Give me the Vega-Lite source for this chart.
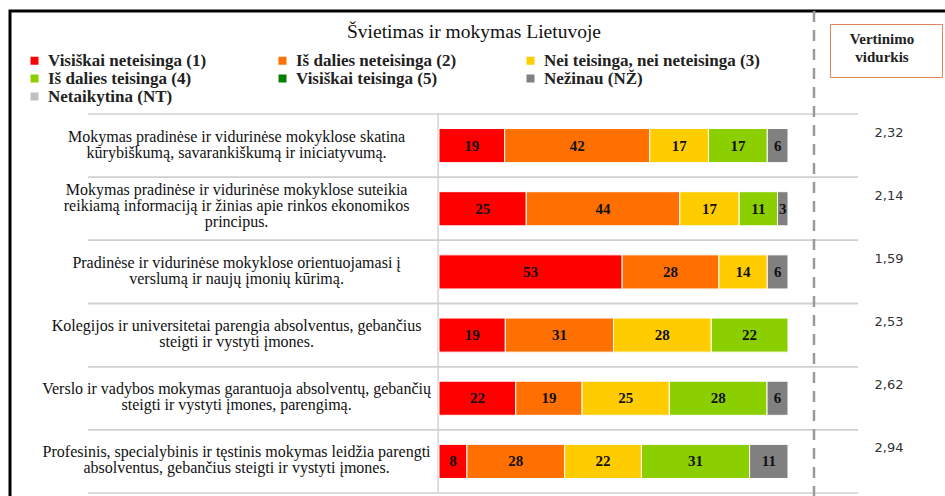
{
  "$schema": "https://vega.github.io/schema/vega-lite/v6.json",
  "autosize": {"type": "none"},
  "padding": {"left": 10, "top": 11, "right": -3, "bottom": -3},
  "width": 938,
  "height": 488,
  "background": "white",
  "title": {
    "text": "Švietimas ir mokymas Lietuvoje",
    "font": "Liberation Serif",
    "fontSize": 19.5,
    "fontWeight": "normal",
    "color": "#111111",
    "anchor": "middle",
    "baseline": "alphabetic",
    "offset": -48,
    "dx": -5
  },
  "datasets": {
    "bars": [
      {"s": "q1", "c": "Visiškai neteisinga (1)", "k": 1, "v": 19},
      {"s": "q1", "c": "Iš dalies neteisinga (2)", "k": 2, "v": 42},
      {"s": "q1", "c": "Nei teisinga, nei neteisinga (3)", "k": 3, "v": 17},
      {"s": "q1", "c": "Iš dalies teisinga (4)", "k": 4, "v": 17},
      {"s": "q1", "c": "Nežinau (NŽ)", "k": 6, "v": 6},
      {"s": "q2", "c": "Visiškai neteisinga (1)", "k": 1, "v": 25},
      {"s": "q2", "c": "Iš dalies neteisinga (2)", "k": 2, "v": 44},
      {"s": "q2", "c": "Nei teisinga, nei neteisinga (3)", "k": 3, "v": 17},
      {"s": "q2", "c": "Iš dalies teisinga (4)", "k": 4, "v": 11},
      {"s": "q2", "c": "Nežinau (NŽ)", "k": 6, "v": 3},
      {"s": "q3", "c": "Visiškai neteisinga (1)", "k": 1, "v": 53},
      {"s": "q3", "c": "Iš dalies neteisinga (2)", "k": 2, "v": 28},
      {"s": "q3", "c": "Nei teisinga, nei neteisinga (3)", "k": 3, "v": 14},
      {"s": "q3", "c": "Nežinau (NŽ)", "k": 6, "v": 6},
      {"s": "q4", "c": "Visiškai neteisinga (1)", "k": 1, "v": 19},
      {"s": "q4", "c": "Iš dalies neteisinga (2)", "k": 2, "v": 31},
      {"s": "q4", "c": "Nei teisinga, nei neteisinga (3)", "k": 3, "v": 28},
      {"s": "q4", "c": "Iš dalies teisinga (4)", "k": 4, "v": 22},
      {"s": "q5", "c": "Visiškai neteisinga (1)", "k": 1, "v": 22},
      {"s": "q5", "c": "Iš dalies neteisinga (2)", "k": 2, "v": 19},
      {"s": "q5", "c": "Nei teisinga, nei neteisinga (3)", "k": 3, "v": 25},
      {"s": "q5", "c": "Iš dalies teisinga (4)", "k": 4, "v": 28},
      {"s": "q5", "c": "Nežinau (NŽ)", "k": 6, "v": 6},
      {"s": "q6", "c": "Visiškai neteisinga (1)", "k": 1, "v": 8},
      {"s": "q6", "c": "Iš dalies neteisinga (2)", "k": 2, "v": 28},
      {"s": "q6", "c": "Nei teisinga, nei neteisinga (3)", "k": 3, "v": 22},
      {"s": "q6", "c": "Iš dalies teisinga (4)", "k": 4, "v": 31},
      {"s": "q6", "c": "Nežinau (NŽ)", "k": 6, "v": 11}
    ],
    "stm": [
      {"s": "q1", "avg": 2.32, "label": "Mokymas pradinėse ir vidurinėse mokyklose skatina\nkūrybiškumą, savarankiškumą ir iniciatyvumą."},
      {"s": "q2", "avg": 2.14, "label": "Mokymas pradinėse ir vidurinėse mokyklose suteikia\nreikiamą informaciją ir žinias apie rinkos ekonomikos\nprincipus."},
      {"s": "q3", "avg": 1.59, "label": "Pradinėse ir vidurinėse mokyklose orientuojamasi į\nverslumą ir naujų įmonių kūrimą."},
      {"s": "q4", "avg": 2.53, "label": "Kolegijos ir universitetai parengia absolventus, gebančius\nsteigti ir vystyti įmones."},
      {"s": "q5", "avg": 2.62, "label": "Verslo ir vadybos mokymas garantuoja absolventų, gebančių\nsteigti ir vystyti įmones, parengimą."},
      {"s": "q6", "avg": 2.94, "label": "Profesinis, specialybinis ir tęstinis mokymas leidžia parengti\nabsolventus, gebančius steigti ir vystyti įmones."}
    ]
  },
  "layer": [
    {
      "data": {"name": "stm"},
      "mark": {"type": "rule", "color": "#d0d0d0", "strokeWidth": 1.5},
      "encoding": {
        "y": {"field": "s", "type": "nominal", "bandPosition": 0, "axis": null,
              "scale": {"type": "band", "domain": ["q1", "q2", "q3", "q4", "q5", "q6"], "paddingInner": 0, "paddingOuter": 0.8628, "align": 0.94495}},
        "x": {"datum": -1.0057, "type": "quantitative", "axis": null,
              "scale": {"domain": [-1.22923, 1.45845], "nice": false, "zero": false}},
        "x2": {"datum": 1.2006}
      }
    },
    {
      "data": {"name": "stm"},
      "mark": {"type": "rule", "color": "#d0d0d0", "strokeWidth": 1.5},
      "encoding": {
        "y": {"field": "s", "type": "nominal", "bandPosition": 1, "axis": null},
        "x": {"datum": -1.0057, "type": "quantitative", "axis": null},
        "x2": {"datum": 1.2006}
      }
    },
    {
      "data": {"name": "stm"},
      "mark": {"type": "bar", "color": "#d0d0d0"},
      "encoding": {
        "y": {"field": "s", "type": "nominal", "axis": null},
        "x": {"datum": -0.0045, "type": "quantitative", "axis": null},
        "x2": {"datum": -0.0005}
      }
    },
    {
      "data": {"values": [{}]},
      "mark": {"type": "rule", "color": "#9a9a9a", "strokeWidth": 2.5, "strokeDash": [11, 8]},
      "encoding": {
        "x": {"datum": 1.0745, "type": "quantitative", "axis": null}
      }
    },
    {
      "data": {"name": "bars"},
      "mark": {"type": "bar", "height": {"band": 0.54}, "stroke": "white", "strokeWidth": 1},
      "encoding": {
        "y": {"field": "s", "type": "nominal", "axis": null},
        "x": {"field": "v", "type": "quantitative", "stack": "normalize", "axis": null},
        "order": {"field": "k", "type": "quantitative"},
        "color": {
          "field": "c", "type": "nominal",
          "scale": {
            "domain": ["Visiškai neteisinga (1)", "Iš dalies neteisinga (2)", "Nei teisinga, nei neteisinga (3)", "Iš dalies teisinga (4)", "Visiškai teisinga (5)", "Nežinau (NŽ)", "Netaikytina (NT)"],
            "range": ["#ff0000", "#ff7000", "#ffcc00", "#8ccf00", "#008000", "#808080", "#c0c0c0"]
          },
          "legend": {
            "orient": "none", "legendX": 16, "legendY": 41,
            "title": null, "columns": 3, "direction": "horizontal",
            "gridAlign": "all", "columnPadding": 10, "rowPadding": 0,
            "symbolType": "square", "symbolSize": 64, "symbolStrokeWidth": 0,
            "labelFont": "Liberation Serif", "labelFontWeight": "bold", "labelFontSize": 17,
            "labelColor": "#222222", "labelOffset": 5, "labelLimit": 400
          }
        }
      }
    },
    {
      "data": {"name": "bars"},
      "mark": {"type": "text", "font": "Liberation Serif", "fontWeight": "bold", "fontSize": 15, "color": "#111111", "baseline": "middle", "align": "center"},
      "encoding": {
        "y": {"field": "s", "type": "nominal", "axis": null},
        "x": {"field": "v", "type": "quantitative", "stack": "normalize", "bandPosition": 0.5, "axis": null},
        "order": {"field": "k", "type": "quantitative"},
        "detail": {"field": "c", "type": "nominal"},
        "text": {"field": "v", "type": "quantitative"}
      }
    },
    {
      "data": {"name": "stm"},
      "transform": [{"filter": "length(split(datum.label, '\\n')) < 3"}],
      "mark": {"type": "text", "font": "Liberation Serif", "fontSize": 16, "lineHeight": 16, "lineBreak": "\n", "color": "#111111", "align": "center", "baseline": "middle", "dy": -9},
      "encoding": {
        "y": {"field": "s", "type": "nominal", "axis": null},
        "x": {"datum": -0.58, "type": "quantitative", "axis": null},
        "text": {"field": "label", "type": "nominal"}
      }
    },
    {
      "data": {"name": "stm"},
      "transform": [{"filter": "length(split(datum.label, '\\n')) >= 3"}],
      "mark": {"type": "text", "font": "Liberation Serif", "fontSize": 16, "lineHeight": 16, "lineBreak": "\n", "color": "#111111", "align": "center", "baseline": "middle", "dy": -18.5},
      "encoding": {
        "y": {"field": "s", "type": "nominal", "axis": null},
        "x": {"datum": -0.58, "type": "quantitative", "axis": null},
        "text": {"field": "label", "type": "nominal"}
      }
    },
    {
      "data": {"name": "stm"},
      "mark": {"type": "text", "font": "DejaVu Sans", "fontSize": 13, "color": "#333333", "align": "center", "baseline": "middle", "dy": -13, "strokeWidth": 0},
      "encoding": {
        "y": {"field": "s", "type": "nominal", "axis": null},
        "x": {"datum": 1.2894, "type": "quantitative", "axis": null},
        "text": {"field": "avg", "type": "quantitative", "format": ".2f"},
        "stroke": {
          "field": "avg", "type": "quantitative",
          "scale": {"range": ["#ffffff", "#ffffff"]},
          "legend": {
            "orient": "none", "legendX": 820, "legendY": 13,
            "direction": "horizontal", "gradientLength": 96, "gradientThickness": 1,
            "gradientStrokeWidth": 0, "values": [],
            "title": ["Vertinimo", "vidurkis"],
            "titleFont": "Liberation Serif", "titleFontWeight": "bold", "titleFontSize": 15,
            "titleLineHeight": 18, "titleColor": "#222222",
            "titleAlign": "center", "titleAnchor": "middle", "titlePadding": 3,
            "padding": 8, "strokeColor": "#e2855c"
          }
        }
      }
    }
  ],
  "config": {
    "view": {"stroke": "#000000", "strokeWidth": 3},
    "locale": {"number": {"decimal": ",", "thousands": ".", "grouping": [3], "currency": ["", " €"]}}
  }
}
